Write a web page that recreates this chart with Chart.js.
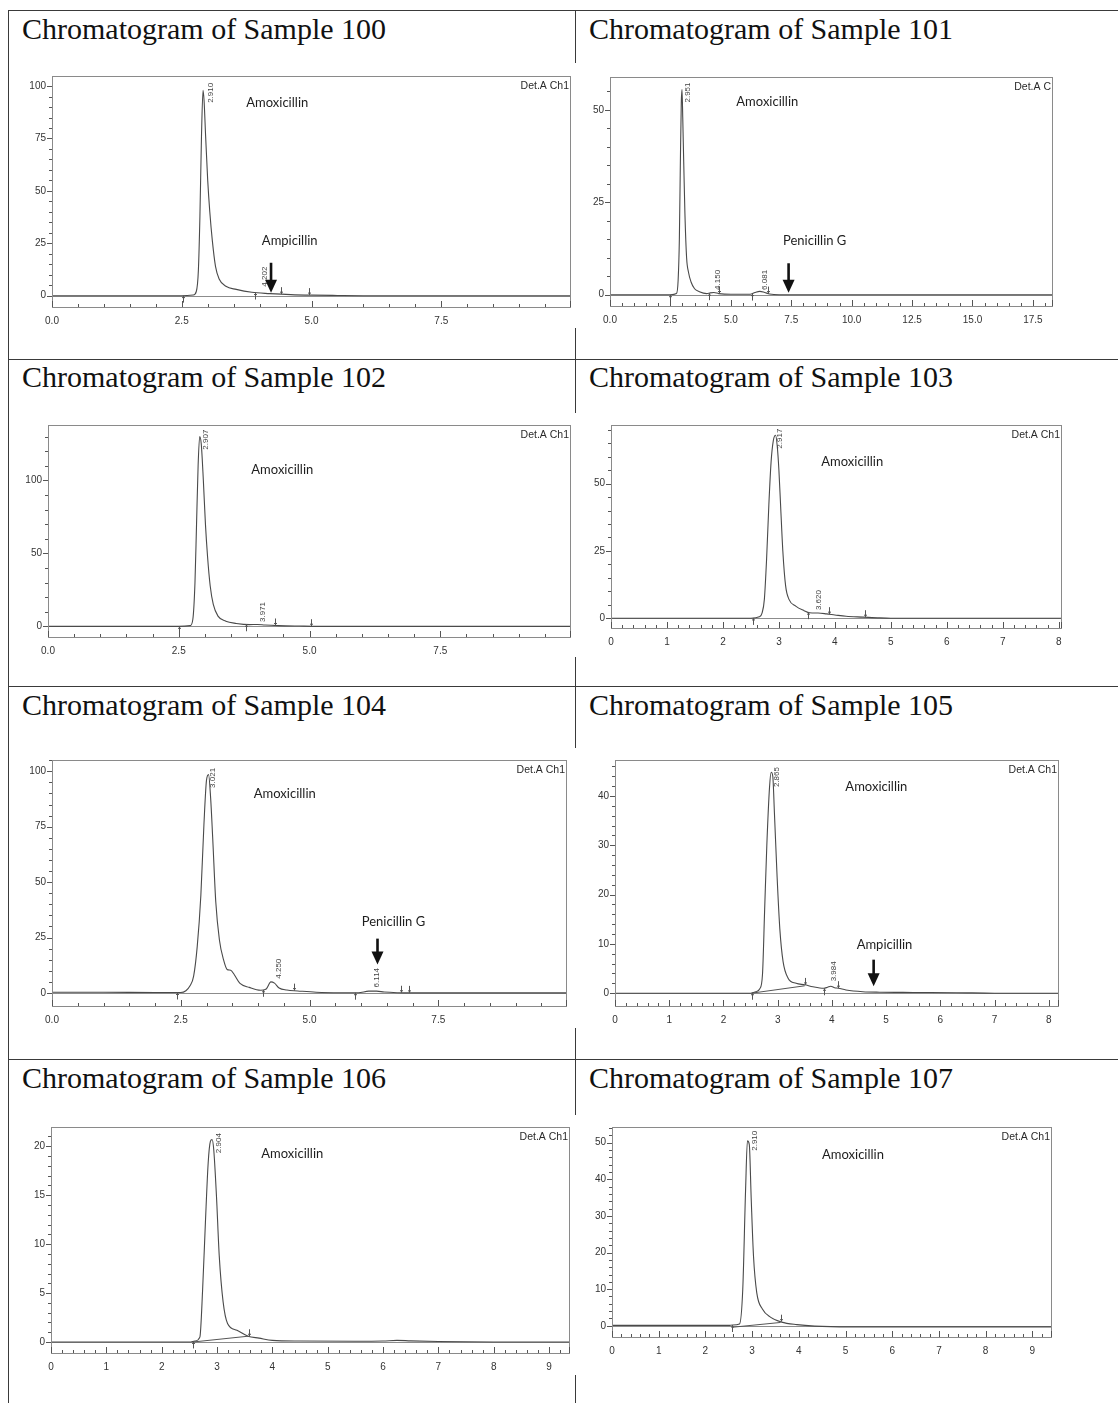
<!DOCTYPE html>
<html>
<head>
<meta charset="utf-8">
<script src="https://cdn.jsdelivr.net/npm/chart.js@4.4.1/dist/chart.umd.min.js"></script>
<style>
  html, body { margin: 0; padding: 0; background: #fff; }
  #page { position: relative; width: 1118px; height: 1403px; overflow: hidden; background: #fff; }
  .hline { position: absolute; left: 8px; right: 0; height: 0; border-top: 1.5px solid #3a3a3a; }
  .vline { position: absolute; top: 10px; bottom: 0; width: 0; border-left: 1.5px solid #3a3a3a; }
  .title { position: absolute; font-family: "Liberation Serif", "Times New Roman", serif; font-size: 30px; line-height: 30px; color: #111; white-space: nowrap; }
  canvas { position: absolute; background: #fff; }
</style>
</head>
<body>
<div id="page">
  <div class="hline" style="top:10px"></div>
  <div class="hline" style="top:359px"></div>
  <div class="hline" style="top:686px"></div>
  <div class="hline" style="top:1059px"></div>
  <div class="vline" style="left:8px"></div>
  <div class="vline" style="left:575px"></div>

  <div class="title" style="left:22px; top:14px">Chromatogram of Sample 100</div>
  <div class="title" style="left:589px; top:14px">Chromatogram of Sample 101</div>
  <div class="title" style="left:22px; top:362px">Chromatogram of Sample 102</div>
  <div class="title" style="left:589px; top:362px">Chromatogram of Sample 103</div>
  <div class="title" style="left:22px; top:690px">Chromatogram of Sample 104</div>
  <div class="title" style="left:589px; top:690px">Chromatogram of Sample 105</div>
  <div class="title" style="left:22px; top:1063px">Chromatogram of Sample 106</div>
  <div class="title" style="left:589px; top:1063px">Chromatogram of Sample 107</div>
</div>

<script>
// retention time (min) and signal (mV)

// Sample 100
const t100 = [0, 2.5, 2.72, 2.78, 2.82, 2.85, 2.88, 2.91, 2.93, 2.96, 3.0, 3.04, 3.09, 3.15, 3.22, 3.35, 3.55, 3.85, 4.2, 4.6, 5.0, 5.5, 6.0, 10];
const s100 = [0, 0, 0.3, 2, 12, 38, 76, 98, 93, 76, 55, 40, 26, 14, 8, 4.5, 3, 1.6, 1.0, 0.5, 0.25, 0.1, 0, 0];
const rt100 = ['2.910', '4.202'];
const start100 = [2.53, 3.91];
const end100 = [4.42, 4.96];

// Sample 101
const t101 = [0, 2.5, 2.75, 2.82, 2.87, 2.91, 2.95, 2.98, 3.01, 3.05, 3.1, 3.17, 3.25, 3.35, 3.5, 3.7, 4.0, 4.15, 4.3, 4.5, 5.0, 5.8, 6.0, 6.2, 6.4, 6.6, 7.0, 18.3];
const s101 = [0, 0, 0.3, 4, 15, 35, 52, 55.5, 48, 36, 22, 10, 6, 3.5, 1.6, 0.8, 0.3, 0.5, 0.6, 0.3, 0.1, 0.1, 0.6, 0.9, 0.6, 0.2, 0, 0];
const rt101 = ['2.951', '4.150', '6.081'];
const start101 = [2.49, 4.08, 5.88];
const end101 = [4.49, 6.55];

// Sample 102
const t102 = [0, 2.5, 2.72, 2.77, 2.81, 2.84, 2.87, 2.9, 2.93, 2.97, 3.01, 3.05, 3.1, 3.16, 3.25, 3.4, 3.6, 3.85, 4.0, 4.15, 4.4, 4.8, 5.2, 10];
const s102 = [0, 0, 0.5, 5, 30, 70, 110, 130, 125, 100, 70, 48, 28, 15, 7, 3.5, 2, 1.2, 1.3, 0.9, 0.5, 0.2, 0, 0];
const rt102 = ['2.907', '3.971'];
const start102 = [2.51, 3.78];
const end102 = [4.34, 5.02];

// Sample 103
const t103 = [0, 2.5, 2.65, 2.7, 2.74, 2.78, 2.82, 2.86, 2.9, 2.94, 2.97, 3.0, 3.03, 3.07, 3.12, 3.18, 3.3, 3.45, 3.55, 3.7, 3.85, 4.0, 4.2, 4.5, 4.8, 5.0, 8.04];
const s103 = [0, 0, 0.5, 2, 7, 22, 42, 58, 66, 68, 64, 55, 42, 25, 12, 7, 4.5, 2.8, 2.0, 1.9, 1.6, 1.2, 0.7, 0.4, 0.1, 0, 0];
const rt103 = ['2.917', '3.620'];
const start103 = [2.53, 3.52];
const end103 = [3.89, 4.54];

// Sample 104
const t104 = [0, 1.0, 2.0, 2.5, 2.6, 2.68, 2.75, 2.82, 2.89, 2.95, 3.0, 3.04, 3.08, 3.12, 3.18, 3.25, 3.33, 3.4, 3.47, 3.54, 3.65, 3.83, 4.05, 4.16, 4.25, 4.32, 4.41, 4.56, 4.77, 5.13, 5.6, 5.95, 6.15, 6.3, 6.45, 6.7, 7.0, 10.04];
const s104 = [0.3, 0.3, 0.2, 0.2, 1, 3.2, 7.6, 21, 44, 76, 96, 98.5, 88, 70, 41, 24, 15, 10.6, 10.2, 8.2, 4.3, 2.5, 1.2, 1.8, 5, 4.4, 2.2, 1.3, 0.9, 0.3, 0.1, 0.1, 0.8, 0.8, 0.4, 0.1, 0, 0];
const rt104 = ['3.021', '4.250', '6.114'];
const start104 = [2.42, 4.09, 5.88];
const end104 = [4.7, 6.78, 6.94];

// Sample 105
const t105 = [0, 2.5, 2.6, 2.67, 2.72, 2.76, 2.8, 2.85, 2.88, 2.91, 2.94, 2.99, 3.04, 3.1, 3.19, 3.34, 3.5, 3.65, 3.85, 3.92, 3.98, 4.05, 4.12, 4.26, 4.57, 4.88, 5.5, 6.3, 7.0, 8.17];
const s105 = [0, 0, 0.3, 0.9, 3.8, 17, 30, 41.8, 44.8, 44, 36.6, 23.5, 13, 6.4, 3.1, 2.0, 1.7, 1.3, 1.0, 1.2, 1.4, 1.1, 1.0, 0.65, 0.3, 0.2, 0.15, 0.1, 0, 0];
const base105t = [2.52, 3.5];
const base105s = [0, 1.5];
const rt105 = ['2.865', '3.984'];
const start105 = [2.53, 3.85];
const end105 = [3.51, 4.11];

// Sample 106
const t106 = [0, 2.5, 2.6, 2.69, 2.74, 2.79, 2.84, 2.88, 2.91, 2.94, 2.99, 3.04, 3.11, 3.19, 3.36, 3.56, 3.76, 4.0, 4.5, 5.5, 6.0, 6.25, 6.5, 7.0, 8.0, 9.36];
const s106 = [0, 0, 0.1, 0.5, 5.4, 12.2, 18.3, 20.5, 20.7, 19.7, 14.9, 8.8, 4.1, 1.9, 1.2, 0.6, 0.4, 0.17, 0.1, 0.08, 0.1, 0.17, 0.12, 0.05, 0, 0];
const base106t = [2.56, 3.57];
const base106s = [0, 0.6];
const rt106 = ['2.904'];
const start106 = [2.56];
const end106 = [3.57];

// Sample 107
const t107 = [0, 1.5, 2.5, 2.58, 2.73, 2.8, 2.86, 2.9, 2.94, 2.98, 3.03, 3.1, 3.22, 3.4, 3.63, 3.96, 4.34, 5.09, 6.0, 9.4];
const s107 = [0.1, 0.1, 0.1, 0.2, 0.5, 10, 37, 50.5, 49.5, 35, 19, 9, 4.6, 2.3, 1, 0.3, -0.1, -0.3, -0.3, -0.3];
const base107t = [2.58, 3.61];
const base107s = [-0.4, 0.9];
const rt107 = ['2.910'];
const start107 = [2.58];
const end107 = [3.61];

Chart.defaults.font.family = '"Liberation Sans", Arial, sans-serif';
Chart.defaults.color = '#333';

// canvas: [left, top, width, height], area: [left, top, right, bottom] in page pixels
const panels = [
  { canvas: [10, 63, 570, 265], area: [52, 76, 570, 307],
    x: { max: 9.98, major: 2.5, minor: 0.5 }, y: { min: -5.4, max: 104.8, major: 25, minor: 5 },
    t: t100, s: s100, rt: rt100, rtPos: [[3.06, 92], [4.1, 4.3]], starts: start100, ends: end100,
    names: [['Amoxicillin', 4.34, 92], ['Ampicillin', 4.58, 26.3]], arrows: [[4.22, 15.7, 1.4]], det: 'Det.A Ch1' },
  { canvas: [580, 63, 538, 265], area: [610, 77, 1052, 306],
    x: { max: 18.29, major: 2.5, minor: 0.5 }, y: { min: -3.06, max: 58.9, major: 25, minor: 5 },
    t: t101, s: s101, rt: rt101, rtPos: [[3.22, 52], [4.45, 1.3], [6.42, 1.3]], starts: start101, ends: end101,
    names: [['Amoxicillin', 6.51, 52.1], ['Penicillin G', 8.47, 14.6]], arrows: [[7.39, 8.5, 0.5]], det: 'Det.A C' },
  { canvas: [10, 413, 570, 244], area: [48, 423, 570, 637],
    x: { max: 9.98, major: 2.5, minor: 0.5 }, y: { min: -7.3, max: 137.9, major: 50, minor: 10 },
    t: t102, s: s102, rt: rt102, rtPos: [[3.01, 121], [4.1, 3]], starts: start102, ends: end102,
    names: [['Amoxicillin', 4.48, 107.3]], arrows: [], det: 'Det.A Ch1' },
  { canvas: [580, 413, 538, 244], area: [611, 422, 1061, 628],
    x: { max: 8.04, major: 1, minor: 0.2 }, y: { min: -3.65, max: 71.8, major: 25, minor: 5 },
    t: t103, s: s103, rt: rt103, rtPos: [[3.01, 63], [3.71, 3]], starts: start103, ends: end103,
    names: [['Amoxicillin', 4.31, 58]], arrows: [], det: 'Det.A Ch1' },
  { canvas: [10, 748, 570, 280], area: [52, 753, 566, 1006],
    x: { max: 9.98, major: 2.5, minor: 0.5 }, y: { min: -5.9, max: 105.1, major: 25, minor: 5 },
    t: t104, s: s104, rt: rt104, rtPos: [[3.12, 92.5], [4.41, 6.4], [6.31, 2.5]], starts: start104, ends: end104,
    names: [['Amoxicillin', 4.52, 90], ['Penicillin G', 6.63, 32.1]], arrows: [[6.32, 24.5, 12.8]], det: 'Det.A Ch1' },
  { canvas: [580, 748, 538, 280], area: [615, 752, 1058, 1006],
    x: { max: 8.17, major: 1, minor: 0.2 }, y: { min: -2.6, max: 47.3, major: 10, minor: 2 },
    t: t105, s: s105, bt: base105t, bs: base105s, rt: rt105, rtPos: [[2.98, 41.8], [4.03, 2.4]], starts: start105, ends: end105,
    names: [['Amoxicillin', 4.82, 41.8], ['Ampicillin', 4.97, 9.76]], arrows: [[4.77, 6.8, 1.4]], det: 'Det.A Ch1' },
  { canvas: [10, 1115, 570, 260], area: [51, 1126, 569, 1353],
    x: { max: 9.36, major: 1, minor: 0.2 }, y: { min: -1.12, max: 21.97, major: 5, minor: 1 },
    t: t106, s: s106, bt: base106t, bs: base106s, rt: rt106, rtPos: [[3.04, 19.3]], starts: start106, ends: end106,
    names: [['Amoxicillin', 4.36, 19.27]], arrows: [], det: 'Det.A Ch1' },
  { canvas: [580, 1115, 538, 260], area: [612, 1124, 1051, 1337],
    x: { max: 9.4, major: 1, minor: 0.2 }, y: { min: -3.07, max: 54.3, major: 10, minor: 2 },
    t: t107, s: s107, bt: base107t, bs: base107s, rt: rt107, rtPos: [[3.05, 47.8]], starts: start107, ends: end107,
    names: [['Amoxicillin', 5.16, 46.6]], arrows: [], det: 'Det.A Ch1' }
];

function signalAt(t, s, v) {
  for (let i = 1; i < t.length; i++) {
    if (v <= t[i]) {
      const f = (v - t[i - 1]) / (t[i] - t[i - 1]);
      return s[i - 1] + f * (s[i] - s[i - 1]);
    }
  }
  return s[s.length - 1];
}

function isMajor(v, step) {
  const q = v / step;
  return Math.abs(q - Math.round(q)) < 1e-6;
}

// tick values from 0 up to max, every step
function stepTicks(max, step) {
  const out = [];
  for (let i = 0; i * step <= max + 1e-9; i++) out.push({ value: +(i * step).toFixed(6) });
  return out;
}

const chromPlugin = {
  id: 'chrom',
  beforeDatasetsDraw(chart) {
    const { ctx, chartArea: a, scales: { y } } = chart;
    const y0 = Math.round(y.getPixelForValue(0)) + 0.5;
    ctx.save();
    ctx.strokeStyle = '#8c8c8c';
    ctx.lineWidth = 1;
    ctx.beginPath();
    ctx.moveTo(a.left, y0);
    ctx.lineTo(a.right, y0);
    ctx.stroke();
    ctx.restore();
  },
  afterDatasetsDraw(chart) {
    const p = chart.options.plugins.chrom.panel;
    const { ctx, chartArea: a, scales: { x, y } } = chart;
    ctx.save();

    // frame
    ctx.strokeStyle = '#8a8a8a';
    ctx.lineWidth = 1;
    ctx.strokeRect(Math.round(a.left) + 0.5, Math.round(a.top) + 0.5,
      Math.round(a.right - a.left), Math.round(a.bottom - a.top));

    // minor / major ticks
    ctx.strokeStyle = '#555';
    ctx.beginPath();
    for (let i = 0; i * p.x.minor <= p.x.max + 1e-9; i++) {
      const v = i * p.x.minor;
      const px = Math.round(x.getPixelForValue(v)) + 0.5;
      ctx.moveTo(px, a.bottom);
      ctx.lineTo(px, a.bottom - (isMajor(v, p.x.major) ? 6 : 3));
    }
    const rx = Math.round(a.right) + 0.5;
    ctx.moveTo(rx, a.bottom);
    ctx.lineTo(rx, a.bottom - 6);
    for (let i = 0; i * p.y.minor <= p.y.max + 1e-9; i++) {
      const v = i * p.y.minor;
      const py = Math.round(y.getPixelForValue(v)) + 0.5;
      ctx.moveTo(a.left, py);
      ctx.lineTo(a.left - (isMajor(v, p.y.major) ? 5 : 3), py);
    }
    ctx.stroke();

    // integration start / end marks
    ctx.strokeStyle = '#555';
    ctx.beginPath();
    p.starts.forEach(v => {
      const px = Math.round(x.getPixelForValue(v)) + 0.5;
      const py = y.getPixelForValue(signalAt(p.t, p.s, v));
      ctx.moveTo(px, py); ctx.lineTo(px, py + 7);
      ctx.moveTo(px - 1.5, py + 2); ctx.lineTo(px + 1.5, py + 2);
    });
    p.ends.forEach(v => {
      const px = Math.round(x.getPixelForValue(v)) + 0.5;
      const py = y.getPixelForValue(signalAt(p.t, p.s, v));
      ctx.moveTo(px, py - 7); ctx.lineTo(px, py);
      ctx.moveTo(px - 1.5, py - 2); ctx.lineTo(px + 1.5, py - 2);
    });
    ctx.stroke();

    // retention time labels, rotated
    ctx.fillStyle = '#444';
    ctx.font = '8px "Liberation Sans", Arial, sans-serif';
    ctx.textAlign = 'left';
    ctx.textBaseline = 'middle';
    p.rt.forEach((txt, i) => {
      const [vx, vy] = p.rtPos[i];
      ctx.save();
      ctx.translate(x.getPixelForValue(vx), y.getPixelForValue(vy));
      ctx.rotate(-Math.PI / 2);
      ctx.fillText(txt, 0, 0);
      ctx.restore();
    });

    // detector name
    ctx.fillStyle = '#2a2a2a';
    ctx.font = '10.5px "Liberation Sans", Arial, sans-serif';
    ctx.textAlign = 'right';
    ctx.textBaseline = 'middle';
    ctx.fillText(p.det, a.right - 1, a.top + 10);

    // compound names
    ctx.fillStyle = '#1e1e1e';
    ctx.font = '13px Lato, "Open Sans", sans-serif';
    ctx.textAlign = 'center';
    p.names.forEach(([txt, vx, vy]) => {
      ctx.fillText(txt, x.getPixelForValue(vx), y.getPixelForValue(vy));
    });

    // arrows
    ctx.fillStyle = '#111';
    p.arrows.forEach(([vx, vTop, vTip]) => {
      const px = x.getPixelForValue(vx);
      const top = y.getPixelForValue(vTop);
      const tip = y.getPixelForValue(vTip);
      const head = 13;
      ctx.fillRect(px - 1.3, top, 2.6, tip - top - head + 1);
      ctx.beginPath();
      ctx.moveTo(px - 6, tip - head);
      ctx.lineTo(px + 6, tip - head);
      ctx.lineTo(px, tip);
      ctx.closePath();
      ctx.fill();
    });

    ctx.restore();
  }
};

const page = document.getElementById('page');

panels.forEach(p => {
  const [cx, cy, cw, ch] = p.canvas;
  const [L, T, R, B] = p.area;
  const cv = document.createElement('canvas');
  cv.width = cw; cv.height = ch;
  cv.style.left = cx + 'px'; cv.style.top = cy + 'px';
  cv.style.width = cw + 'px'; cv.style.height = ch + 'px';
  page.appendChild(cv);

  const datasets = [{
    data: p.t.map((v, i) => ({ x: v, y: p.s[i] })),
    borderColor: '#4a4a4a',
    borderWidth: 1.1,
    pointRadius: 0,
    cubicInterpolationMode: 'monotone',
    fill: false
  }];
  if (p.bt) {
    datasets.push({
      data: p.bt.map((v, i) => ({ x: v, y: p.bs[i] })),
      borderColor: '#555',
      borderWidth: 1,
      pointRadius: 0,
      tension: 0,
      fill: false
    });
  }

  const xDec = p.x.major % 1 === 0 ? 0 : 1;

  new Chart(cv, {
    type: 'line',
    data: { datasets: datasets },
    options: {
      responsive: false,
      animation: false,
      events: [],
      layout: { padding: { left: 0, top: T - cy, right: cx + cw - R, bottom: 0 } },
      plugins: {
        legend: { display: false },
        tooltip: { enabled: false },
        chrom: { panel: p }
      },
      scales: {
        x: {
          type: 'linear',
          min: 0,
          max: p.x.max,
          grid: { display: false, drawTicks: false },
          border: { display: false },
          afterBuildTicks: s => { s.ticks = stepTicks(p.x.max, p.x.major); },
          ticks: {
            autoSkip: false,
            maxRotation: 0,
            padding: 8,
            font: { size: 10 },
            color: '#333',
            callback: v => v.toFixed(xDec)
          },
          afterFit: s => { s.height = cy + ch - B; }
        },
        y: {
          type: 'linear',
          min: p.y.min,
          max: p.y.max,
          grid: { display: false, drawTicks: false },
          border: { display: false },
          afterBuildTicks: s => { s.ticks = stepTicks(p.y.max, p.y.major); },
          ticks: {
            autoSkip: false,
            padding: 6,
            font: { size: 10 },
            color: '#333',
            callback: v => String(v)
          },
          afterFit: s => { s.width = L - cx; }
        }
      }
    },
    plugins: [chromPlugin]
  });
});
</script>
</body>
</html>
